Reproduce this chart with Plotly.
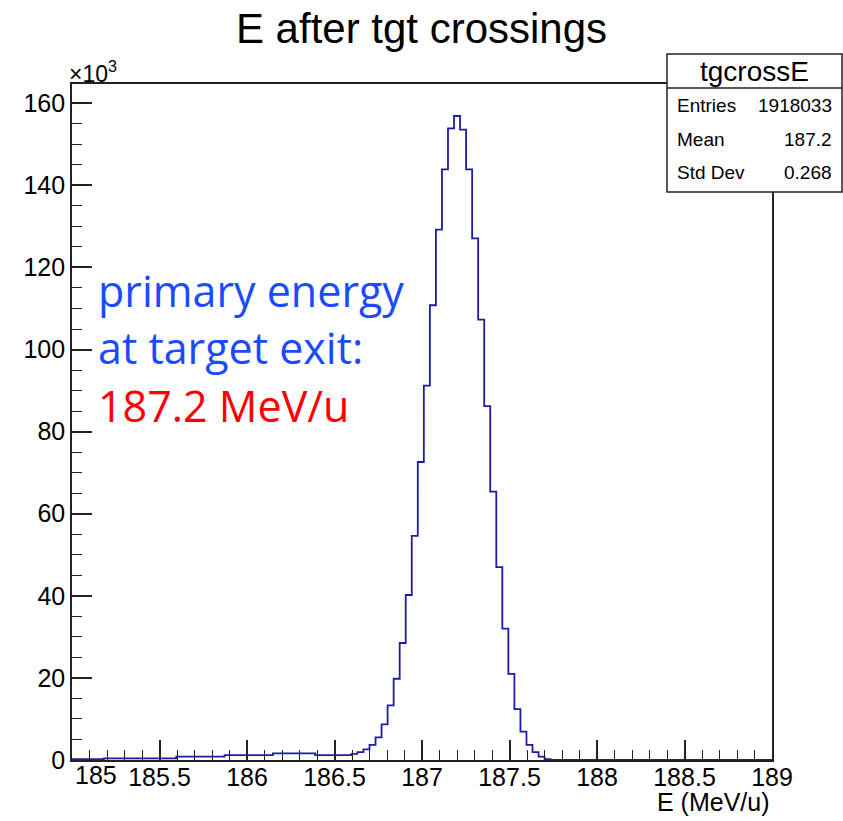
import plotly.graph_objects as go
import numpy as np

# ---------------- data ----------------
hist_name = "tgcrossE"
title_text = "E after tgt crossings"
x_title = "E (MeV/u)"
bin_low = 184.975      # lower edge of first bin
bin_width = 0.0345     # bin width (MeV/u)
counts = (
    [200] * 6 + [400] * 12 + [800] * 8 + [1200] * 8 + [1600] * 7 + [1200] * 6 +
    [1500, 1900, 2600, 3700, 5500, 8700, 13300, 19800, 28500, 40200, 54600,
     72600, 91200, 110800, 129200, 143900, 153900, 156900, 153600, 143900,
     127100, 107300, 86200, 65400, 47000, 32000, 21000, 12400, 6900, 3700,
     1900, 800, 200, 50] +
    [0] * 36
)
entries = "1918033"
mean_val = "187.2"
std_val = "0.268"
x_range = [185, 189]
y_max = 164700
x_tick_vals = [185, 185.5, 186, 186.5, 187, 187.5, 188, 188.5, 189]
x_tick_text = ["", "185.5", "186", "186.5", "187", "187.5", "188", "188.5", "189"]
y_tick_vals = [0, 20000, 40000, 60000, 80000, 100000, 120000, 140000, 160000]
y_tick_text = ["0", "20", "40", "60", "80", "100", "120", "140", "160"]
note_lines = ["primary energy", "at target exit:", "187.2 MeV/u"]

# ---------------- geometry helpers ----------------
W, H = 843, 821
L, R, T, B = 72, 772, 84, 760


def px(x):
    return (x - L) / (R - L)


def py(y):
    return (B - y) / (B - T)


edges = bin_low + bin_width * np.arange(len(counts) + 1)
xs = np.concatenate([[edges[0]], edges])
ys = np.concatenate([[0], counts, [counts[-1]]])

fig = go.Figure()
fig.add_trace(go.Scatter(
    x=xs, y=ys, mode="lines", line=dict(color="#1c1ca4", width=1.8, shape="hv"),
    hoverinfo="skip", showlegend=False,
))

axis_font = dict(family="Liberation Sans, Arial, sans-serif", size=25, color="black")

fig.update_xaxes(
    range=x_range, showgrid=False, zeroline=False,
    showline=True, mirror=True, linecolor="#222", linewidth=1.6,
    ticks="inside", ticklen=20, tickwidth=1.5, tickcolor="#222",
    tickvals=x_tick_vals, ticktext=x_tick_text, tickfont=axis_font,
    ticklabelstandoff=-6,
    minor=dict(ticks="inside", ticklen=10, dtick=0.1, tick0=185, tickwidth=1.3, tickcolor="#222"),
)
fig.update_yaxes(
    range=[0, y_max], showgrid=False, zeroline=False,
    showline=True, mirror=True, linecolor="#222", linewidth=1.6,
    ticks="inside", ticklen=20, tickwidth=1.5, tickcolor="#222",
    tickvals=y_tick_vals, ticktext=y_tick_text, tickfont=axis_font,
    minor=dict(ticks="inside", ticklen=10, dtick=5000, tick0=0, tickwidth=1.3, tickcolor="#222"),
)

ann = []
# first x label (shifted inward as in reference)
ann.append(dict(x=185, y=0, xref="x", yref="y", text="185", showarrow=False,
                xanchor="left", yanchor="top", xshift=1, yshift=1, font=axis_font))
# axis title
ann.append(dict(x=1, y=py(802), xref="paper", yref="paper", text=x_title, showarrow=False,
                xanchor="right", yanchor="middle", font=axis_font))
# exponent
ann.append(dict(x=px(67), y=py(72), xref="paper", yref="paper", text="×10<sup>3</sup>",
                showarrow=False, xanchor="left", yanchor="middle",
                font=dict(family="Liberation Sans, Arial, sans-serif", size=23, color="black")))

# stats box
box_l, box_r, box_t, box_sep, box_b = 667, 842, 54, 88, 192
shapes = [
    dict(type="rect", xref="paper", yref="paper", x0=px(box_l), x1=px(box_r),
         y0=py(box_b), y1=py(box_t), line=dict(color="#222", width=1.5),
         fillcolor="white", layer="above"),
    dict(type="line", xref="paper", yref="paper", x0=px(box_l), x1=px(box_r),
         y0=py(box_sep), y1=py(box_sep), line=dict(color="#222", width=1.5), layer="above"),
]
stat_font = dict(family="Liberation Sans, Arial, sans-serif", size=19, color="black")
ann.append(dict(x=px((box_l + box_r) / 2), y=py(71), xref="paper", yref="paper",
                text=hist_name, showarrow=False, xanchor="center", yanchor="middle",
                font=dict(family="Liberation Sans, Arial, sans-serif", size=28, color="black")))
for label, val, yc in [("Entries", entries, 105), ("Mean", mean_val, 139), ("Std Dev", std_val, 173)]:
    ann.append(dict(x=px(675), y=py(yc), xref="paper", yref="paper", text=label,
                    showarrow=False, xanchor="left", yanchor="middle", font=stat_font))
    ann.append(dict(x=px(834), y=py(yc), xref="paper", yref="paper", text=val,
                    showarrow=False, xanchor="right", yanchor="middle", font=stat_font))

# overlay note
note_colors = ["#1a4bff", "#1a4bff", "#ff0000"]
for txt, col, yc in zip(note_lines, note_colors, [290, 347, 405]):
    ann.append(dict(x=px(96), y=py(yc), xref="paper", yref="paper", text=txt,
                    showarrow=False, xanchor="left", yanchor="middle",
                    font=dict(family="Open Sans, Noto Sans, sans-serif", size=43, color=col)))

fig.update_layout(
    width=W, height=H,
    margin=dict(l=L, r=W - R, t=T, b=H - B, pad=0),
    paper_bgcolor="white", plot_bgcolor="white",
    title=dict(text=title_text, x=0.5, xref="container", xanchor="center",
               y=1 - 28 / H, yref="container", yanchor="middle",
               font=dict(family="Liberation Sans, Arial, sans-serif", size=42, color="black")),
    annotations=ann, shapes=shapes, showlegend=False,
)

fig.write_html("out.html")
